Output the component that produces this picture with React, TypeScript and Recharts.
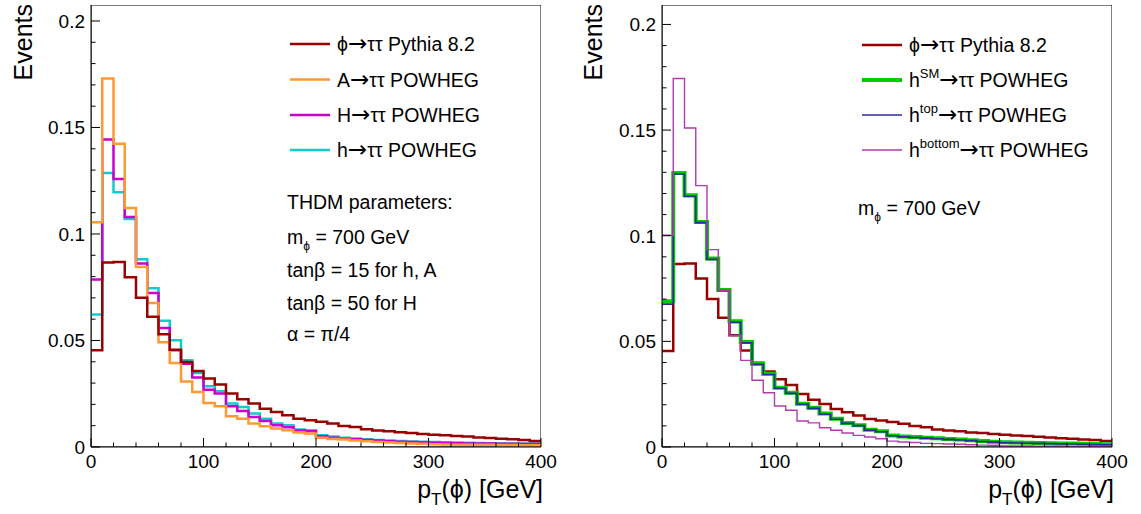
import React from 'react';
import { LineChart, Line, XAxis, YAxis, ReferenceArea, Label } from 'recharts';

const FONT = '"Liberation Sans", Arial, Helvetica, sans-serif';

// bin edges in GeV (10 GeV bins, last edge closes the histogram)
const binEdges = [
  0, 10, 20, 30, 40, 50, 60, 70, 80, 90, 100, 110, 120, 130, 140, 150, 160, 170, 180, 190, 200,
  210, 220, 230, 240, 250, 260, 270, 280, 290, 300, 310, 320, 330, 340, 350, 360, 370, 380, 390, 400,
];

// phi -> tautau Pythia 8.2 (shown in both panels)
const pythia = [
  0.0454, 0.0866, 0.0869, 0.0797, 0.0701, 0.0612, 0.0529, 0.0457, 0.0399, 0.0357,
  0.0321, 0.0293, 0.0251, 0.0224, 0.0204, 0.018, 0.0164, 0.0149, 0.0133, 0.0126,
  0.0118, 0.011, 0.0099, 0.0094, 0.0083, 0.0078, 0.0074, 0.0069, 0.0066, 0.0061,
  0.0058, 0.0055, 0.0052, 0.0049, 0.0045, 0.0042, 0.0039, 0.0036, 0.0033, 0.0028,
];

// left panel, THDM POWHEG
const powhegA = [
  0.1055, 0.173, 0.1424, 0.1122, 0.0845, 0.0676, 0.0492, 0.0394, 0.0308, 0.0258,
  0.0207, 0.0191, 0.0144, 0.0133, 0.011, 0.0097, 0.0087, 0.0079, 0.0068, 0.0063,
  0.0044, 0.0038, 0.0035, 0.003, 0.0027, 0.0024, 0.0021, 0.0019, 0.0017, 0.0015,
  0.0013, 0.0012, 0.0011, 0.0011, 0.001, 0.001, 0.0009, 0.0009, 0.0008, 0.0008,
];
const powhegH = [
  0.0786, 0.1443, 0.1258, 0.108, 0.0861, 0.0723, 0.0559, 0.0454, 0.0391, 0.0326,
  0.0269, 0.0251, 0.0191, 0.0169, 0.0141, 0.0122, 0.0102, 0.0093, 0.0077, 0.0074,
  0.005, 0.0044, 0.0039, 0.0036, 0.0033, 0.003, 0.0027, 0.0025, 0.0023, 0.0022,
  0.002, 0.0019, 0.0018, 0.0017, 0.0016, 0.0016, 0.0015, 0.0015, 0.0014, 0.0014,
];
const powhegh = [
  0.0622, 0.1286, 0.1196, 0.107, 0.0881, 0.0745, 0.0593, 0.0501, 0.0407, 0.0347,
  0.0285, 0.0262, 0.0204, 0.0188, 0.0157, 0.0133, 0.011, 0.0102, 0.0082, 0.0079,
  0.0055, 0.0049, 0.0044, 0.004, 0.0036, 0.0033, 0.003, 0.0028, 0.0026, 0.0025,
  0.0023, 0.0022, 0.0021, 0.002, 0.0019, 0.0018, 0.0017, 0.0017, 0.0016, 0.0016,
];

// right panel, SM-like / top-only / bottom-only couplings
const powhegSM = [
  0.069, 0.1297, 0.1191, 0.1065, 0.0892, 0.0743, 0.0595, 0.0497, 0.0394, 0.0347,
  0.0281, 0.0257, 0.0205, 0.0186, 0.0158, 0.0134, 0.0114, 0.0103, 0.0082, 0.0074,
  0.0055, 0.005, 0.0047, 0.0044, 0.0041, 0.0038, 0.0035, 0.0032, 0.0028, 0.0025,
  0.0022, 0.0021, 0.002, 0.0019, 0.0018, 0.0017, 0.0016, 0.0015, 0.0014, 0.0013,
];
const powhegTop = [
  0.0676, 0.1292, 0.1186, 0.1062, 0.0888, 0.074, 0.059, 0.0493, 0.0391, 0.0343,
  0.0278, 0.0254, 0.0202, 0.0183, 0.0155, 0.0131, 0.0112, 0.0101, 0.008, 0.0072,
  0.0053, 0.0048, 0.0045, 0.0042, 0.0039, 0.0036, 0.0033, 0.003, 0.0026, 0.0023,
  0.002, 0.0019, 0.0018, 0.0017, 0.0016, 0.0015, 0.0014, 0.0013, 0.0012, 0.0011,
];
const powhegBottom = [
  0.1002, 0.1744, 0.151, 0.1237, 0.0934, 0.0741, 0.0528, 0.041, 0.0316, 0.0257,
  0.0194, 0.0174, 0.0123, 0.0114, 0.0091, 0.0079, 0.0066, 0.0055, 0.0047, 0.0039,
  0.0028, 0.0024, 0.0021, 0.0017, 0.0016, 0.0014, 0.0013, 0.0011, 0.0009, 0.0008,
  0.0005, 0.0005, 0.0005, 0.0004, 0.0004, 0.0004, 0.0003, 0.0003, 0.0003, 0.0003,
];

const xTicks = [0, 20, 40, 60, 80, 100, 120, 140, 160, 180, 200, 220, 240, 260, 280, 300, 320, 340, 360, 380, 400];
const xTickLabels = [0, 100, 200, 300, 400];
const yTicks = [
  0, 0.01, 0.02, 0.03, 0.04, 0.05, 0.06, 0.07, 0.08, 0.09, 0.1,
  0.11, 0.12, 0.13, 0.14, 0.15, 0.16, 0.17, 0.18, 0.19, 0.2,
];
const yTickLabels = [0, 0.05, 0.1, 0.15, 0.2];

const leftYMax = 0.2075;
const rightYMax = 0.2092;

// stepAfter needs the last bin repeated at the upper edge
const toRows = (series: Record<string, number[]>) =>
  binEdges.map((x, i) => {
    const row: any = { x };
    Object.keys(series).forEach((k) => {
      row[k] = series[k][Math.min(i, series[k].length - 1)];
    });
    return row;
  });

const leftRows = toRows({ pythia, powhegA, powhegH, powhegh });
const rightRows = toRows({ pythia, powhegSM, powhegTop, powhegBottom });

const XTick = (props: any) => {
  const { x, y, payload } = props;
  const major = xTickLabels.includes(payload.value);
  return (
    <g>
      <line x1={x} x2={x} y1={y} y2={y - (major ? 9 : 4.5)} stroke="#000" />
      {major && (
        <text x={x} y={y + 21} textAnchor="middle" fontSize={19} fontFamily={FONT} fill="#000">
          {payload.value}
        </text>
      )}
    </g>
  );
};

const YTick = (props: any) => {
  const { x, y, payload } = props;
  const major = yTickLabels.includes(payload.value);
  return (
    <g>
      <line x1={x} x2={x + (major ? 9 : 4.5)} y1={y} y2={y} stroke="#000" />
      {major && (
        <text x={x - 6} y={y + 7} textAnchor="end" fontSize={19} fontFamily={FONT} fill="#000">
          {payload.value}
        </text>
      )}
    </g>
  );
};

const XTitle = (props: any) => {
  const { viewBox } = props;
  return (
    <text
      x={viewBox.x + viewBox.width + 2}
      y={viewBox.y + 51}
      textAnchor="end"
      fontSize={25}
      fontFamily={FONT}
      fill="#000"
    >
      p<tspan dy={7} fontSize={17}>T</tspan>
      <tspan dy={-7}>(ϕ) [GeV]</tspan>
    </text>
  );
};

const YTitle = (props: any) => {
  const { viewBox } = props;
  return (
    <text
      transform={`translate(${viewBox.x + 32},${viewBox.y - 1}) rotate(-90)`}
      textAnchor="end"
      fontSize={25}
      fontFamily={FONT}
      fill="#000"
    >
      Events
    </text>
  );
};

const arrow = (
  <tspan fontFamily='"DejaVu Sans", sans-serif' fontSize={23}>
    →
  </tspan>
);

const decay = (head: React.ReactNode, tail: string) => (
  <>
    {head}
    {arrow}
    <tspan>{tail}</tspan>
  </>
);

const sup = (base: string, s: string) => (
  <>
    {base}
    <tspan dy={-9} fontSize={13}>{s}</tspan>
    <tspan dy={9} fontFamily='"DejaVu Sans", sans-serif' fontSize={23}>→</tspan>
    <tspan>ττ POWHEG</tspan>
  </>
);

interface SeriesDef {
  key: string;
  color: string;
  width: number;
  label: React.ReactNode;
}

const leftSeries: SeriesDef[] = [
  { key: 'pythia', color: '#990000', width: 2.5, label: decay('ϕ', 'ττ Pythia 8.2') },
  { key: 'powhegA', color: '#ff9933', width: 2.5, label: decay('A', 'ττ POWHEG') },
  { key: 'powhegH', color: '#cc00cc', width: 2.5, label: decay('H', 'ττ POWHEG') },
  { key: 'powhegh', color: '#11cccc', width: 2.5, label: decay('h', 'ττ POWHEG') },
];

const rightSeries: SeriesDef[] = [
  { key: 'pythia', color: '#990000', width: 2.5, label: decay('ϕ', 'ττ Pythia 8.2') },
  { key: 'powhegSM', color: '#00cc00', width: 4, label: sup('h', 'SM') },
  { key: 'powhegTop', color: '#2b2b9c', width: 1.6, label: sup('h', 'top') },
  { key: 'powhegBottom', color: '#b03cb0', width: 1.4, label: sup('h', 'bottom') },
];

const mPhi = (
  <>
    m<tspan dy={6} fontSize={12}>ϕ</tspan>
    <tspan dy={-6}> = 700 GeV</tspan>
  </>
);

const leftNotes: React.ReactNode[] = [
  'THDM parameters:',
  mPhi,
  'tanβ = 15 for h, A',
  'tanβ = 50 for H',
  'α = π/4',
];
const rightNotes: React.ReactNode[] = [mPhi];

interface PanelProps {
  rows: any[];
  series: SeriesDef[];
  drawOrder: string[];
  yMax: number;
  width: number;
  yAxisWidth: number;
  legendX: number;
  legendY: number[];
  notesX: number;
  notesY: number[];
  notes: React.ReactNode[];
}

const Panel = ({ rows, series, drawOrder, yMax, width, yAxisWidth, legendX, legendY, notesX, notesY, notes }: PanelProps) => (
  <div style={{ position: 'relative', width, height: 514 }}>
    <LineChart width={width} height={514} data={rows} margin={{ top: 5, right: 29, bottom: 0, left: 0 }}>
      <ReferenceArea x1={0} x2={400} y1={0} y2={yMax} fill="none" stroke="#000" strokeWidth={1} ifOverflow="hidden" />
      <XAxis
        dataKey="x"
        type="number"
        domain={[0, 400]}
        ticks={xTicks}
        interval={0}
        height={67}
        tickSize={0}
        tickMargin={0}
        tickLine={false}
        axisLine={{ stroke: '#000' }}
        tick={XTick}
      >
        <Label content={XTitle} />
      </XAxis>
      <YAxis
        type="number"
        domain={[0, yMax]}
        ticks={yTicks}
        interval={0}
        width={yAxisWidth}
        tickSize={0}
        tickMargin={0}
        tickLine={false}
        axisLine={{ stroke: '#000' }}
        tick={YTick}
      >
        <Label content={YTitle} />
      </YAxis>
      {drawOrder.map((k) => {
        const s = series.find((d) => d.key === k)!;
        return (
          <Line
            key={k}
            type="stepAfter"
            dataKey={k}
            stroke={s.color}
            strokeWidth={s.width}
            strokeLinejoin="miter"
            dot={false}
            activeDot={false}
            isAnimationActive={false}
          />
        );
      })}
    </LineChart>
    <svg
      width={width}
      height={514}
      style={{ position: 'absolute', left: 0, top: 0, pointerEvents: 'none' }}
      fontFamily={FONT}
      fontSize={19.5}
    >
      {series.map((s, i) => (
        <g key={s.key}>
          <line x1={legendX} x2={legendX + 40} y1={legendY[i]} y2={legendY[i]} stroke={s.color} strokeWidth={s.width} />
          <text x={legendX + 47} y={legendY[i] + 7} fill="#000">
            {s.label}
          </text>
        </g>
      ))}
      {notes.map((n, i) => (
        <text key={i} x={notesX} y={notesY[i] + 7} fill="#000">
          {n}
        </text>
      ))}
    </svg>
  </div>
);

export default function App() {
  return (
    <div
      style={{
        position: 'absolute',
        left: 0,
        top: 0,
        width: 1141,
        height: 514,
        background: '#fff',
        display: 'flex',
        fontFamily: FONT,
      }}
    >
      <Panel
        rows={leftRows}
        series={leftSeries}
        drawOrder={['powhegh', 'powhegH', 'powhegA', 'pythia']}
        yMax={leftYMax}
        width={570}
        yAxisWidth={91}
        legendX={290}
        legendY={[44, 79.5, 115, 150]}
        notesX={287}
        notesY={[202, 237, 270, 302.5, 334]}
        notes={leftNotes}
      />
      <Panel
        rows={rightRows}
        series={rightSeries}
        drawOrder={['pythia', 'powhegSM', 'powhegTop', 'powhegBottom']}
        yMax={rightYMax}
        width={571}
        yAxisWidth={92}
        legendX={292}
        legendY={[45, 80, 115, 150]}
        notesX={288}
        notesY={[208]}
        notes={rightNotes}
      />
    </div>
  );
}
